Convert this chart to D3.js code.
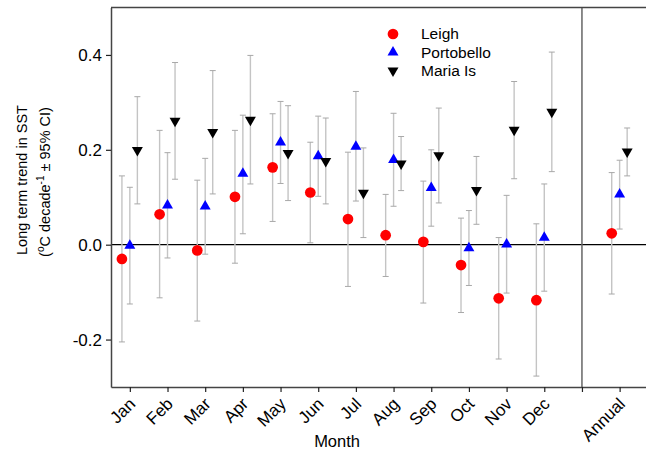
<!DOCTYPE html>
<html>
<head>
<meta charset="utf-8">
<script src="https://cdn.jsdelivr.net/npm/d3@7"></script>
<style>
  body { margin: 0; background: #fff; }
  text { font-family: Arial, "Liberation Sans", sans-serif; fill: #000; }
</style>
</head>
<body>
<div id="chart-area"></div>
<script>
// Data
var months = ["Jan", "Feb", "Mar", "Apr", "May", "Jun", "Jul", "Aug", "Sep", "Oct", "Nov", "Dec", "Annual"];
var slots = [1, 2, 3, 4, 5, 6, 7, 8, 9, 10, 11, 12, 14];
var yTicks = [-0.2, 0.0, 0.2, 0.4];

var leigh     = [-0.030, 0.064, -0.012, 0.101, 0.163, 0.110, 0.054, 0.020, 0.006, -0.043, -0.113, -0.117, 0.024];
var leighLo   = [-0.205, -0.112, -0.161, -0.039, 0.049, 0.004, -0.088, -0.067, -0.123, -0.143, -0.241, -0.277, -0.104];
var leighHi   = [0.145, 0.241, 0.136, 0.241, 0.276, 0.216, 0.195, 0.106, 0.134, 0.056, 0.015, 0.044, 0.152];

var porto     = [-0.002, 0.083, 0.081, 0.150, 0.216, 0.187, 0.207, 0.179, 0.120, -0.007, 0.001, 0.015, 0.106];
var portoLo   = [-0.125, -0.028, -0.020, 0.023, 0.129, 0.102, 0.092, 0.081, 0.039, -0.086, -0.102, -0.098, 0.033];
var portoHi   = [0.121, 0.194, 0.182, 0.273, 0.302, 0.271, 0.323, 0.277, 0.200, 0.072, 0.104, 0.128, 0.178];

var maria     = [0.199, 0.261, 0.237, 0.263, 0.193, 0.176, 0.109, 0.171, 0.188, 0.115, 0.242, 0.280, 0.196];
var mariaLo   = [0.086, 0.138, 0.107, 0.128, 0.093, 0.086, 0.015, 0.114, 0.088, 0.043, 0.139, 0.154, 0.145];
var mariaHi   = [0.312, 0.384, 0.367, 0.399, 0.293, 0.267, 0.204, 0.228, 0.288, 0.186, 0.344, 0.406, 0.246];

var margin = {top: 7.5, right: 0, bottom: 69, left: 111};
var width = 646 - margin.left - margin.right;
var height = 456 - margin.top - margin.bottom;

var svg = d3.select("#chart-area").append("svg").attr("width", 646).attr("height", 456);
var g = svg.append("g").attr("transform", "translate(" + margin.left + ", " + margin.top + ")");

// Scales
var x = d3.scaleLinear().domain([0.5, 14.7]).range([0, width]);
var y = d3.scaleLinear().domain([-0.3, 0.5]).range([height, 0]);

var series = [
  {name: "Leigh", vals: leigh, lo: leighLo, hi: leighHi, off: -0.21, shape: d3.symbolCircle, size: 90, rot: 0, color: "#ff0000"},
  {name: "Portobello", vals: porto, lo: portoLo, hi: portoHi, off: 0, shape: d3.symbolTriangle, size: 52, rot: 0, color: "#0000ff"},
  {name: "Maria Is", vals: maria, lo: mariaLo, hi: mariaHi, off: 0.2, shape: d3.symbolTriangle, size: 52, rot: 180, color: "#000000"}
];

// zero line and annual divider
g.append("line").attr("x1", 0).attr("x2", width).attr("y1", y(0)).attr("y2", y(0))
  .attr("stroke", "#000").attr("stroke-width", 1.3);
g.append("line").attr("x1", x(13)).attr("x2", x(13)).attr("y1", 0).attr("y2", height)
  .attr("stroke", "#666").attr("stroke-width", 1.5);

// error bars
series.forEach(function(s) {
  var eb = g.append("g").attr("class", "err");
  s.vals.forEach(function(v, i) {
    var cx = x(slots[i] + s.off);
    eb.append("line").attr("x1", cx).attr("x2", cx).attr("y1", y(s.lo[i])).attr("y2", y(s.hi[i]))
      .attr("stroke", "#c4c4c4").attr("stroke-width", 1.4);
    [s.lo[i], s.hi[i]].forEach(function(e) {
      eb.append("line").attr("x1", cx - 3).attr("x2", cx + 3).attr("y1", y(e)).attr("y2", y(e))
        .attr("stroke", "#a8a8a8").attr("stroke-width", 1);
    });
  });
});

// markers
series.forEach(function(s) {
  g.append("g").selectAll("path").data(s.vals).enter().append("path")
    .attr("d", d3.symbol().type(s.shape).size(s.size))
    .attr("transform", function(d, i) {
      return "translate(" + x(slots[i] + s.off) + "," + y(d) + ") rotate(" + s.rot + ")";
    })
    .attr("fill", s.color);
});

// Axes
var xAxisCall = d3.axisBottom(x).tickValues(slots.concat([13]).sort(d3.ascending))
  .tickSize(5).tickSizeOuter(0)
  .tickFormat(function(d) { var k = slots.indexOf(d); return k < 0 ? "" : months[k]; });
var xAxisGroup = g.append("g").attr("class", "x axis").attr("transform", "translate(0, " + height + ")").call(xAxisCall);
xAxisGroup.select(".domain").attr("stroke", "#444").attr("stroke-width", 1.5);
xAxisGroup.selectAll(".tick line").attr("stroke", "#222").attr("stroke-width", 1.2);
xAxisGroup.selectAll("text")
  .attr("font-size", "17px").attr("text-anchor", "end")
  .attr("x", 0).attr("y", 0).attr("dy", 0)
  .attr("transform", "translate(6, 18) rotate(-45)");

var yAxisCall = d3.axisLeft(y).tickValues(yTicks).tickSize(5).tickSizeOuter(0)
  .tickFormat(function(d) { return d3.format(".1f")(d).replace("\u2212", "-"); });
var yAxisGroup = g.append("g").attr("class", "y axis").call(yAxisCall);
yAxisGroup.select(".domain").attr("stroke", "#444").attr("stroke-width", 1.5);
yAxisGroup.selectAll(".tick line").attr("stroke", "#222").attr("stroke-width", 1.2);
yAxisGroup.selectAll("text").attr("font-size", "17px").attr("x", -9);

// top frame line
g.append("line").attr("x1", 0).attr("x2", width).attr("y1", 0).attr("y2", 0)
  .attr("stroke", "#444").attr("stroke-width", 1.5);

// Labels
svg.append("text").attr("x", margin.left + x(6.5) ).attr("y", 447).attr("text-anchor", "middle")
  .attr("font-size", "16.5px").text("Month");

var yl = svg.append("text").attr("transform", "translate(27, 180) rotate(-90)")
  .attr("text-anchor", "middle").attr("font-size", "14.5px");
yl.append("tspan").attr("x", 0).attr("y", 0).text("Long term trend in SST");
var yl2 = svg.append("text").attr("transform", "translate(50, 182) rotate(-90)")
  .attr("text-anchor", "middle").attr("font-size", "14.5px");
yl2.append("tspan").text("(");
yl2.append("tspan").attr("font-size", "10px").attr("dy", "-6").text("o");
yl2.append("tspan").attr("dy", "6").text("C decade");
yl2.append("tspan").attr("font-size", "10px").attr("dy", "-6").text("-1");
yl2.append("tspan").attr("dy", "6").text(" \u00b1 95% CI)");

// Legend
var legend = svg.append("g").attr("transform", "translate(393, 34)");
series.forEach(function(s, i) {
  var row = legend.append("g").attr("transform", "translate(0," + (i * 18.3) + ")");
  row.append("path").attr("d", d3.symbol().type(s.shape).size(s.size))
    .attr("transform", "rotate(" + s.rot + ")").attr("fill", s.color);
  row.append("text").attr("x", 28).attr("dy", "0.35em").attr("font-size", "15.5px").text(s.name);
});
</script>
</body>
</html>
